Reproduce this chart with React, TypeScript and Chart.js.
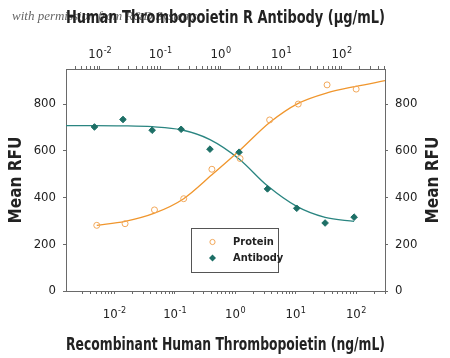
import React, { useEffect, useRef } from 'react';
import { Chart, registerables } from 'chart.js';

Chart.register(...registerables);

// ---- data ----
const proteinConc = [0.0051, 0.015, 0.046, 0.14, 0.41, 1.2, 3.7, 11, 33, 100]; // ng/mL (bottom axis)
const proteinRFU = [281, 288, 347, 395, 521, 567, 732, 800, 882, 864];
const antibodyConc = [0.0081, 0.024, 0.073, 0.22, 0.66, 2.0, 5.9, 18, 53, 160]; // µg/mL (top axis)
const antibodyRFU = [702, 734, 688, 692, 607, 594, 437, 354, 291, 316];

const proteinFitConc = [0.0051, 0.015, 0.046, 0.14, 0.41, 1.2, 3.7, 11, 33, 100, 300];
const proteinFitRFU = [281, 298, 333, 395, 497, 603, 721, 803, 848, 876, 900];
const antibodyFitConc = [0.00274, 0.0081, 0.024, 0.073, 0.22, 0.66, 2.0, 5.9, 18, 53, 160];
const antibodyFitRFU = [708, 708, 707, 703, 690, 648, 565, 450, 362, 315, 298];

const xTickValues = [0.01, 0.1, 1, 10, 100];
const xTickBase = '10';
const xTickExponents = ['-2', '-1', '0', '1', '2'];
const yTickStep = 200;

const bottomMin = 0.00158;
const bottomMax = 300;
const topMin = 0.00274;
const topMax = 519;
const yMin = 0;
const yMax = 950;

const seriesLabels = ['Protein', 'Antibody'];
const bottomTitle = 'Recombinant Human Thrombopoietin (ng/mL)';
const topTitle = 'Human Thrombopoietin R Antibody (µg/mL)';
const yTitle = 'Mean RFU';
const watermark = 'with permission from R&D Systems';

// ---- styles ----
const FONT = "'Liberation Sans Narrow', 'DejaVu Sans Condensed', 'Roboto Condensed', 'Liberation Sans', sans-serif";
const TEXT = '#222222';
const AXIS = '#6a6a6a';
const ORANGE = '#F0962D';
const ORANGE_PT = '#F2A85A';
const TEAL = '#2A8581';
const TEAL_PT = '#1D6F66';

const keepIntegerTicks = (axis: any) => {
  axis.ticks = axis.ticks.filter((t: any) => {
    const v = t.value;
    if (!(v > 0)) return false;
    const e = Math.floor(Math.log10(v) + 1e-9);
    const s = v / Math.pow(10, e);
    return Math.abs(s - Math.round(s)) < 1e-6;
  });
};

const decorPlugin = {
  id: 'decor',
  beforeDraw(chart: any) {
    const ctx = chart.ctx;
    ctx.save();
    ctx.font = "italic 13px 'Liberation Serif', 'DejaVu Serif', serif";
    ctx.fillStyle = '#666666';
    ctx.textAlign = 'left';
    ctx.textBaseline = 'middle';
    ctx.fillText(watermark, 12, 17);
    ctx.restore();
  },
  afterDraw(chart: any) {
    const ctx = chart.ctx;
    const area = chart.chartArea;
    ctx.save();
    // exponent tick labels on both log axes
    const drawExp = (scale: any, baseline: number) => {
      xTickValues.forEach((v, i) => {
        const px = scale.getPixelForValue(v);
        ctx.font = `13px ${FONT}`;
        const w1 = ctx.measureText(xTickBase).width;
        ctx.font = `9px ${FONT}`;
        const w2 = ctx.measureText(xTickExponents[i]).width;
        const left = px - (w1 + w2 + 0.5) / 2;
        ctx.fillStyle = TEXT;
        ctx.textAlign = 'left';
        ctx.textBaseline = 'alphabetic';
        ctx.font = `13px ${FONT}`;
        ctx.fillText(xTickBase, left, baseline);
        ctx.font = `9px ${FONT}`;
        ctx.fillText(xTickExponents[i], left + w1 + 0.5, baseline - 5);
      });
    };
    drawExp(chart.scales.x, 317.5);
    drawExp(chart.scales.x2, 58);

    // right axis title (reads bottom-to-top)
    ctx.save();
    ctx.translate(433.5, (area.top + area.bottom) / 2);
    ctx.rotate(-Math.PI / 2);
    ctx.font = `bold 17px ${FONT}`;
    ctx.fillStyle = TEXT;
    ctx.textAlign = 'center';
    ctx.textBaseline = 'middle';
    ctx.fillText(yTitle, 0, 0);
    ctx.restore();

    // legend box inside plot
    const bx = 191.5, by = 228.5, bw = 87, bh = 44;
    ctx.fillStyle = '#ffffff';
    ctx.fillRect(bx, by, bw, bh);
    ctx.strokeStyle = '#555555';
    ctx.lineWidth = 1;
    ctx.strokeRect(bx, by, bw, bh);
    ctx.font = `bold 11px ${FONT}`;
    ctx.textAlign = 'left';
    ctx.textBaseline = 'middle';
    seriesLabels.forEach((lab, i) => {
      const cy = 242 + i * 16;
      const cx = 212.5;
      if (i === 0) {
        ctx.beginPath();
        ctx.arc(cx, cy, 2.6, 0, Math.PI * 2);
        ctx.strokeStyle = ORANGE_PT;
        ctx.lineWidth = 1;
        ctx.stroke();
      } else {
        const r = 3.5;
        ctx.beginPath();
        ctx.moveTo(cx - r, cy);
        ctx.lineTo(cx, cy - r);
        ctx.lineTo(cx + r, cy);
        ctx.lineTo(cx, cy + r);
        ctx.closePath();
        ctx.fillStyle = TEAL_PT;
        ctx.fill();
      }
      ctx.fillStyle = TEXT;
      ctx.fillText(lab, 233, cy);
    });
    ctx.restore();
  },
};

export default function App() {
  const ref = useRef<HTMLCanvasElement>(null);

  useEffect(() => {
    document.body.style.margin = '0';
    const canvas = ref.current;
    if (!canvas) return;

    const logAxis = (position: 'top' | 'bottom', min: number, max: number, size: number, title: string, pad: any) => ({
      type: 'logarithmic' as const,
      position,
      min,
      max,
      afterFit: (s: any) => { s.height = size; },
      afterBuildTicks: keepIntegerTicks,
      grid: { drawOnChartArea: false, color: AXIS, tickLength: 3, lineWidth: 1 },
      border: { display: true, color: AXIS, width: 1 },
      ticks: { display: false, autoSkip: false },
      title: {
        display: true,
        text: title,
        color: TEXT,
        font: { family: FONT, size: 18, weight: 'bold' as const },
        padding: pad,
      },
    });

    const linAxis = (position: 'left' | 'right', size: number, showTitle: boolean) => ({
      type: 'linear' as const,
      position,
      min: yMin,
      max: yMax,
      afterFit: (s: any) => { s.width = size; },
      grid: { drawOnChartArea: false, color: AXIS, tickLength: 3, lineWidth: 1 },
      border: { display: true, color: AXIS, width: 1 },
      ticks: {
        stepSize: yTickStep,
        includeBounds: false,
        color: TEXT,
        padding: 7,
        font: { family: FONT, size: 13 },
      },
      title: {
        display: showTitle,
        text: yTitle,
        color: TEXT,
        font: { family: FONT, size: 17, weight: 'bold' as const },
        padding: { top: 6, bottom: 0 },
      },
    });

    const chart = new Chart(canvas, {
      type: 'line',
      data: {
        datasets: [
          {
            label: seriesLabels[0],
            data: proteinConc.map((x, i) => ({ x, y: proteinRFU[i] })),
            xAxisID: 'x',
            yAxisID: 'y',
            showLine: false,
            pointStyle: 'circle',
            pointRadius: 3,
            pointBorderWidth: 1,
            pointBorderColor: ORANGE_PT,
            pointBackgroundColor: 'rgba(255,255,255,0)',
            borderColor: ORANGE_PT,
          },
          {
            label: seriesLabels[1],
            data: antibodyConc.map((x, i) => ({ x, y: antibodyRFU[i] })),
            xAxisID: 'x2',
            yAxisID: 'y',
            showLine: false,
            pointStyle: 'rectRot',
            pointRadius: 3.3,
            pointBorderWidth: 1,
            pointBorderColor: TEAL_PT,
            pointBackgroundColor: TEAL_PT,
            borderColor: TEAL_PT,
          },
          {
            label: 'Protein fit',
            data: proteinFitConc.map((x, i) => ({ x, y: proteinFitRFU[i] })),
            xAxisID: 'x',
            yAxisID: 'y',
            pointRadius: 0,
            borderColor: ORANGE,
            borderWidth: 1.3,
            cubicInterpolationMode: 'monotone',
            fill: false,
          },
          {
            label: 'Antibody fit',
            data: antibodyFitConc.map((x, i) => ({ x, y: antibodyFitRFU[i] })),
            xAxisID: 'x2',
            yAxisID: 'y',
            pointRadius: 0,
            borderColor: TEAL,
            borderWidth: 1.3,
            cubicInterpolationMode: 'monotone',
            fill: false,
          },
        ],
      },
      options: {
        responsive: false,
        animation: false,
        devicePixelRatio: 1,
        layout: { padding: 0 },
        plugins: {
          legend: { display: false },
          tooltip: { enabled: false },
        },
        scales: {
          x: logAxis('bottom', bottomMin, bottomMax, 67, bottomTitle, { top: 0, bottom: 2 }),
          x2: logAxis('top', topMin, topMax, 69, topTitle, { top: 8, bottom: 0 }),
          y: linAxis('left', 66, true),
          y2: linAxis('right', 65, false),
        },
      } as any,
      plugins: [decorPlugin],
    });

    return () => chart.destroy();
  }, []);

  return (
    <div style={{ width: 450, height: 358 }}>
      <canvas ref={ref} width={450} height={358} style={{ display: 'block' }} />
    </div>
  );
}
